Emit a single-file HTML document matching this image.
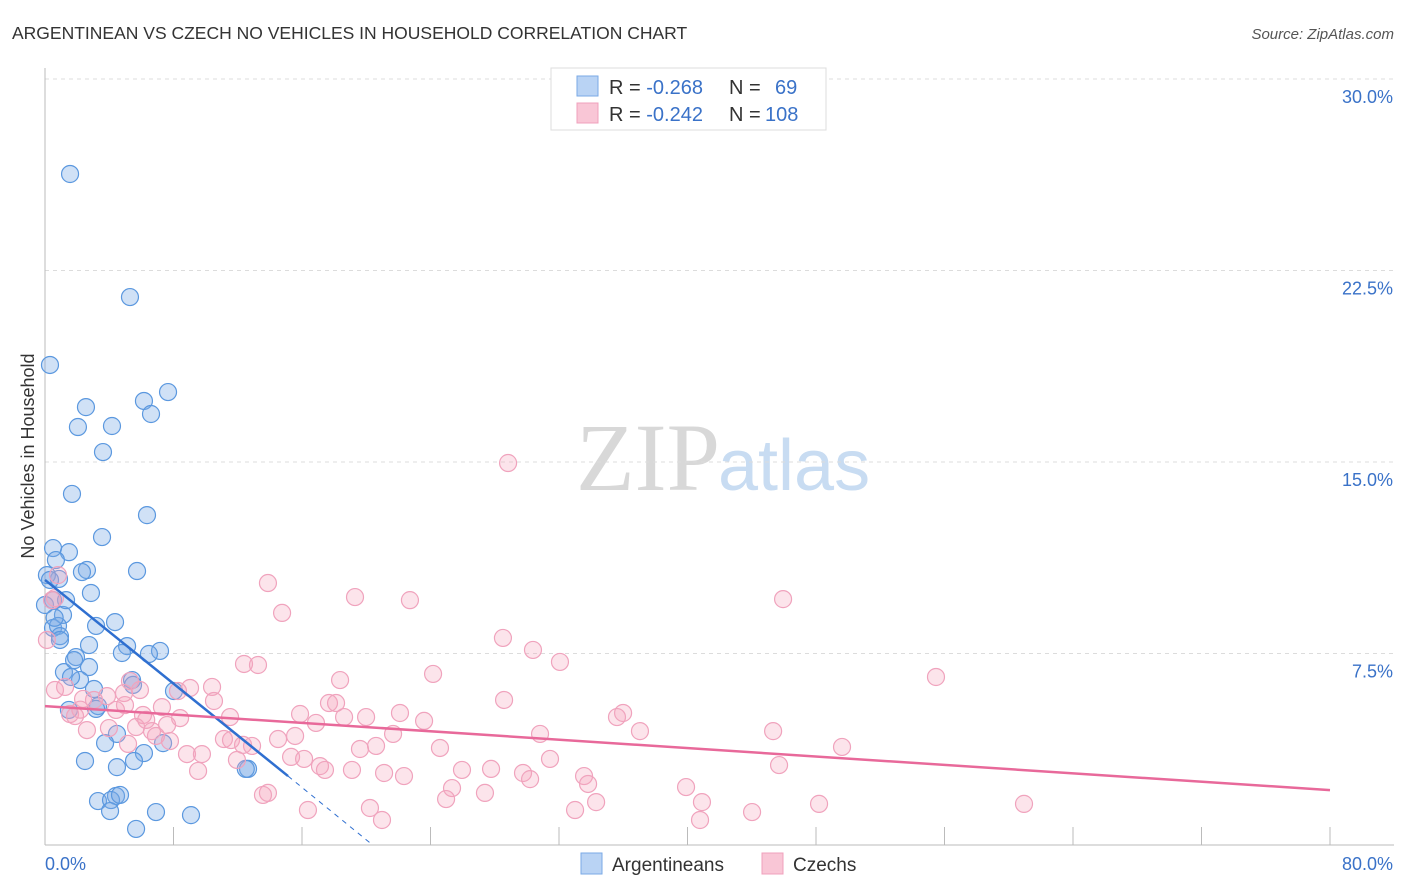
<!DOCTYPE html>
<html><head><meta charset="utf-8"><style>
body{margin:0;background:#fff;font-family:"Liberation Sans",sans-serif;}
#wrap{position:relative;width:1406px;height:892px;overflow:hidden;}
</style></head><body>
<div id="wrap">
<svg id="svg" width="1406" height="892" xmlns="http://www.w3.org/2000/svg">
<text x="12" y="39" font-size="17.5" fill="#333">ARGENTINEAN VS CZECH NO VEHICLES IN HOUSEHOLD CORRELATION CHART</text>
<text x="1394" y="39" font-size="15" fill="#555" font-style="italic" text-anchor="end">Source: ZipAtlas.com</text>
<text x="720" y="490" font-size="96" fill="#d8d8d8" text-anchor="end" font-family="Liberation Serif,serif">ZIP</text>
<text x="718" y="490" font-size="72" fill="#c8dcf2">atlas</text>
<text transform="translate(34,456) rotate(-90)" font-size="18" fill="#333" text-anchor="middle">No Vehicles in Household</text>
<g id="grid"></g><g id="pts"></g><g id="lines"></g>
<g>
<rect x="551" y="68" width="275" height="62" fill="#fff" stroke="#ddd"/>
<rect x="577" y="76" width="21" height="20" fill="#b9d3f4" stroke="#7aaae6"/>
<rect x="577" y="103" width="21" height="20" fill="#f9c6d6" stroke="#f0a0bc"/>
<text x="609" y="94" font-size="20" fill="#333">R = <tspan fill="#3a72c8">-0.268</tspan><tspan x="729">N = </tspan><tspan x="775" fill="#3a72c8">69</tspan></text>
<text x="609" y="121" font-size="20" fill="#333">R = <tspan fill="#3a72c8">-0.242</tspan><tspan x="729">N = </tspan><tspan x="765" fill="#3a72c8">108</tspan></text>
</g>
<g>
<rect x="581" y="853" width="21" height="21" fill="#b9d3f4" stroke="#7aaae6"/>
<text x="612" y="871" font-size="19" fill="#333">Argentineans</text>
<rect x="762" y="853" width="21" height="21" fill="#f9c6d6" stroke="#f0a0bc"/>
<text x="793" y="871" font-size="19" fill="#333">Czechs</text>
</g>
</svg>
</div>
<script>
const yTicks=[7.5,15,22.5,30];
const yTickLabels=["7.5%","15.0%","22.5%","30.0%"];
const xTickVals=[0,8,16,24,32,40,48,56,64,72,80];
const xEndLabels=["0.0%","80.0%"];
const blueX=[1.56,5.29,0.31,7.66,2.55,6.16,6.60,2.05,4.17,3.61,1.68,6.35,3.55,0.50,1.49,0.68,2.61,2.30,5.73,0.87,0.50,2.86,1.12,0.50,0.81,0.93,3.18,4.36,2.74,5.11,4.79,7.16,6.47,1.18,1.93,1.81,2.74,2.18,1.62,3.05,3.30,1.49,3.18,5.42,5.48,8.03,4.48,3.74,7.35,6.16,5.54,4.48,2.49,4.42,3.30,4.11,4.67,4.05,6.91,9.09,5.67,12.64,1.31,0.12,0.31,0.0,0.93,0.6,12.5];
const blueY=[26.28,21.46,18.80,17.74,17.15,17.39,16.88,16.37,16.41,15.39,13.75,12.92,12.06,11.63,11.47,11.16,10.77,10.69,10.73,10.42,9.59,9.87,9.01,8.50,8.58,8.18,8.58,8.73,7.83,7.79,7.52,7.60,7.48,6.77,7.36,7.24,6.97,6.46,6.58,6.11,5.44,5.29,5.33,6.46,6.27,6.03,4.35,3.99,3.99,3.60,3.29,3.05,3.29,1.92,1.72,1.76,1.96,1.33,1.29,1.17,0.63,2.98,9.59,10.57,10.38,9.40,8.03,8.9,2.98];
const pinkX=[28.83,13.88,19.30,22.72,45.95,14.76,28.51,30.38,32.06,12.39,13.26,24.16,55.47,18.37,9.03,10.40,5.91,4.92,8.28,1.25,0.62,5.29,3.86,10.52,17.68,18.12,28.58,2.37,7.28,4.42,4.98,3.05,8.41,22.10,35.99,35.61,6.10,11.52,15.88,1.56,1.87,16.87,18.62,19.99,23.60,2.61,3.98,5.67,7.60,6.66,6.91,7.78,30.82,37.04,45.33,14.51,15.57,21.67,11.14,11.58,12.33,12.89,5.17,8.84,9.77,19.61,20.61,24.59,49.62,15.32,16.13,17.12,11.95,31.44,9.53,17.43,19.11,21.11,22.35,25.96,27.77,29.76,30.20,33.56,45.70,33.81,25.34,39.91,27.39,24.97,13.88,13.57,34.31,40.90,48.19,60.95,16.37,20.23,33.00,44.02,20.98,40.78,0.12,0.62,0.81,0.44,2.2,6.3];
const pinkY=[14.96,10.26,9.71,9.59,9.63,9.09,8.11,7.64,7.17,7.09,7.05,6.70,6.58,6.46,6.15,6.19,6.07,5.95,6.03,6.19,6.07,6.42,5.83,5.64,5.56,5.56,5.68,5.72,5.40,5.29,5.48,5.68,4.97,5.17,5.17,5.01,5.09,5.01,5.13,5.13,5.05,4.78,5.01,5.01,4.86,4.50,4.58,4.62,4.70,4.46,4.27,4.07,4.35,4.46,4.46,4.15,4.27,4.35,4.15,4.11,3.92,3.88,3.96,3.56,3.56,3.76,3.88,3.80,3.84,3.45,3.37,3.09,3.33,3.37,2.90,2.94,2.94,2.82,2.70,2.94,2.98,2.82,2.58,2.70,3.13,2.39,2.23,2.27,2.04,1.80,2.04,1.96,1.68,1.68,1.61,1.61,1.37,1.45,1.37,1.29,0.98,0.98,8.03,9.67,10.57,9.59,5.3,4.9];
const blueTrend=[[0,10.38],[15.13,2.70]];
const blueTrendDash=[[15.13,2.70],[20.4,0]];
const pinkTrend=[[0,5.44],[80,2.15]];

const X0=45,X1=1330,Y0=845,Y30=79;
const sx=v=>X0+(v/80)*(X1-X0);
const sy=v=>Y0-(v/30)*(Y0-Y30);
const NS="http://www.w3.org/2000/svg";
function mk(tag,attrs,parent){const e=document.createElementNS(NS,tag);for(const k in attrs)e.setAttribute(k,attrs[k]);parent.appendChild(e);return e;}
const grid=document.getElementById('grid'),pts=document.getElementById('pts'),lines=document.getElementById('lines');
yTicks.forEach((t,i)=>{
  const l=mk('line',{x1:X0,x2:1394,y1:sy(t),y2:sy(t),stroke:'#dcdcdc','stroke-dasharray':'4,4'},grid);
  
  
  const tx=mk('text',{x:1393,y:sy(t)+24,'font-size':18,fill:'#3a72c8','text-anchor':'end'},grid);
  tx.textContent=yTickLabels[i];
  
  
});
const ya=mk('line',{x1:X0,x2:X0,y1:68,y2:Y0,stroke:'#bbb'},grid);


const xa=mk('line',{x1:X0,x2:1394,y1:Y0,y2:Y0,stroke:'#bbb'},grid);


xTickVals.forEach(v=>{
  const t=mk('line',{x1:sx(v),x2:sx(v),y1:Y0-18,y2:Y0,stroke:'#bbb'},grid);
  
  
});
[[0,'start',X0],[1,'end',1393]].forEach(([i,a,x])=>{
  const t=mk('text',{x:x,y:870,'font-size':18,fill:'#3a72c8','text-anchor':a},grid);
  t.textContent=xEndLabels[i];
  
  
});
blueX.forEach((v,i)=>{
  const c=mk('circle',{cx:sx(v),cy:sy(blueY[i]),r:8.5,fill:'rgba(120,170,230,0.35)',stroke:'#5b98df','stroke-width':1.2},pts);
  
  
});
pinkX.forEach((v,i)=>{
  const c=mk('circle',{cx:sx(v),cy:sy(pinkY[i]),r:8.5,fill:'rgba(245,165,190,0.3)',stroke:'#f0a3bd','stroke-width':1.2},pts);
  
  
});
const bl=mk('line',{x1:sx(blueTrend[0][0]),y1:sy(blueTrend[0][1]),x2:sx(blueTrend[1][0]),y2:sy(blueTrend[1][1]),stroke:'#2f6fd0','stroke-width':2.5},lines);


const bd=mk('line',{x1:sx(blueTrendDash[0][0]),y1:sy(blueTrendDash[0][1]),x2:sx(blueTrendDash[1][0]),y2:sy(blueTrendDash[1][1]),stroke:'#2f6fd0','stroke-width':1,'stroke-dasharray':'5,5'},lines);


const pl=mk('line',{x1:sx(pinkTrend[0][0]),y1:sy(pinkTrend[0][1]),x2:sx(pinkTrend[1][0]),y2:sy(pinkTrend[1][1]),stroke:'#e8699a','stroke-width':2.5},lines);


</script>
</body></html>
